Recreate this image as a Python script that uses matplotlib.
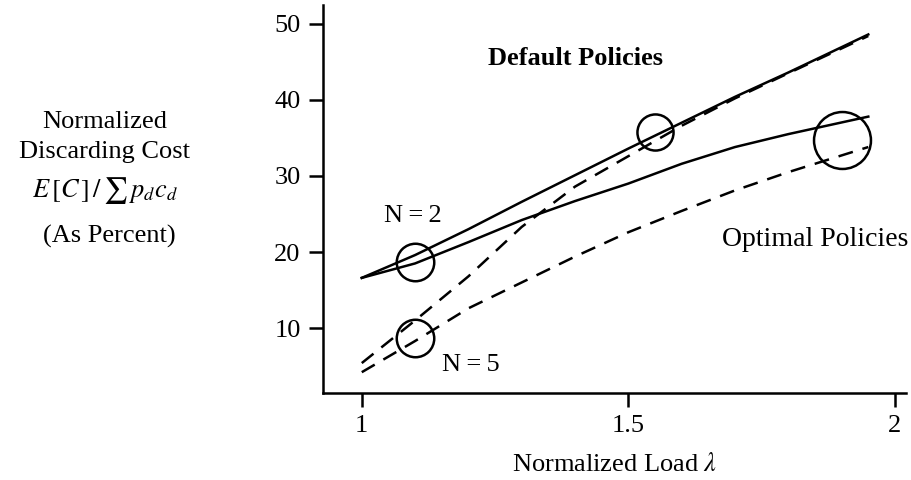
import matplotlib
matplotlib.use("Agg")
import matplotlib.pyplot as plt

# normalized load values where the curves were sampled
load = [1.0, 1.1, 1.2, 1.3, 1.4, 1.5, 1.6, 1.7, 1.8, 1.95]

# discarding cost (percent) per policy / buffer size
default_n2 = [16.6, 19.6, 23.0, 26.6, 30.1, 33.6, 37.0, 40.4, 43.6, 48.6]
default_n5 = [5.4, 11.0, 16.8, 23.3, 28.6, 32.6, 36.6, 40.2, 43.5, 48.4]
optimal_n2 = [16.6, 18.5, 21.3, 24.2, 26.7, 29.0, 31.6, 33.8, 35.5, 37.8]
optimal_n5 = [4.2, 8.3, 12.6, 16.0, 19.4, 22.6, 25.4, 28.1, 30.5, 33.8]

# circled points
circle_x = [1.1, 1.1, 1.55, 1.9]
circle_y = [18.7, 8.7, 35.8, 34.7]
circle_size = [27, 27, 26, 41]

xticks = [1, 1.5, 2]
xtick_labels = ["1", "1.5", "2"]
yticks = [10, 20, 30, 40, 50]

plt.rcParams["font.family"] = ["Liberation Serif", "DejaVu Serif"]
plt.rcParams["mathtext.fontset"] = "stix"

fig = plt.figure(figsize=(9.12, 4.8), dpi=100)
ax = fig.add_axes([0.354, 0.181, 0.639, 0.809])

lw = 1.8
dash = (6, 4)
ax.plot(load, default_n2, color="black", lw=lw)
ax.plot(load, optimal_n2, color="black", lw=lw)
ax.plot(load, default_n5, color="black", lw=lw, dashes=dash)
ax.plot(load, optimal_n5, color="black", lw=lw, dashes=dash)

for cx, cy, s in zip(circle_x, circle_y, circle_size):
    ax.plot(cx, cy, marker="o", ms=s, mfc="none", mec="black", mew=1.8)

ax.set_xlim(0.927, 2.02)
ax.set_ylim(1.45, 52.5)
ax.set_xticks(xticks)
ax.set_xticklabels(xtick_labels)
ax.set_yticks(yticks)

for side in ["top", "right"]:
    ax.spines[side].set_visible(False)
for side in ["left", "bottom"]:
    ax.spines[side].set_linewidth(1.8)
ax.tick_params(direction="out", length=10, width=1.8, labelsize=19,
               pad=6)

ax.text(1.4, 45.4, "Default Policies", fontsize=19, fontweight="bold",
        ha="center", va="center")
ax.text(2.025, 21.6, "Optimal Policies", fontsize=20, ha="right",
        va="center")
ax.text(1.095, 24.7, "N\u2009=\u20092", fontsize=19, ha="center",
        va="center")
ax.text(1.205, 5.2, "N\u2009=\u20095", fontsize=19, ha="center",
        va="center")

ax.set_xlabel(r"Normalized Load $\lambda$", fontsize=19, labelpad=11)

fig.text(0.115, 0.745, "Normalized", fontsize=19, ha="center",
         va="center")
fig.text(0.115, 0.683, "Discarding Cost", fontsize=19, ha="center",
         va="center")
fig.text(0.115, 0.603, r"$E\,[C\,]\,/\,\sum\,p_d c_d$", fontsize=19,
         ha="center", va="center")
fig.text(0.12, 0.507, "(As Percent)", fontsize=19, ha="center",
         va="center")

fig.savefig("out.png", dpi=100)
